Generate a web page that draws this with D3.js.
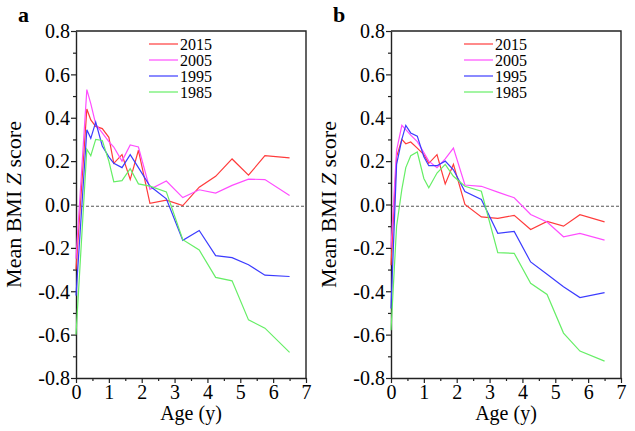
<!DOCTYPE html>
<html>
<head>
<meta charset="utf-8">
<script src="https://cdn.jsdelivr.net/npm/d3@7"></script>
<style>
  body { margin: 0; background: #fff; }
  svg text { font-family: "Liberation Serif", "Times New Roman", serif !important; fill: #000; }
</style>
</head>
<body>
<div id="chart"></div>
<script>
var W = 635, H = 431;
var serif = "'Liberation Serif', 'Times New Roman', serif";

// series names and colours
var years = ["2015", "2005", "1995", "1985"];
var colors = ["#ff3b3b", "#ff4dff", "#3b3bff", "#66ee66"];

// panel a
var agesA = [0, 0.33, 0.45, 0.6, 0.8, 1.0, 1.15, 1.4, 1.65, 1.9, 2.25, 2.75, 3.25, 3.75, 4.25, 4.75, 5.25, 5.75, 6.5];
var a2015 = [-0.3, 0.44, 0.39, 0.36, 0.35, 0.31, 0.19, 0.23, 0.115, 0.25, 0.005, 0.02, -0.005, 0.08, 0.13, 0.21, 0.135, 0.225, 0.215];
var a2005 = [-0.25, 0.53, 0.465, 0.37, 0.33, 0.29, 0.265, 0.2, 0.275, 0.265, 0.07, 0.108, 0.032, 0.068, 0.053, 0.088, 0.117, 0.115, 0.042];
var a1995 = [-0.42, 0.345, 0.305, 0.38, 0.27, 0.22, 0.19, 0.17, 0.23, 0.17, 0.085, 0.026, -0.165, -0.12, -0.236, -0.245, -0.278, -0.326, -0.332];
var a1985 = [-0.6, 0.255, 0.225, 0.3, 0.295, 0.2, 0.105, 0.11, 0.165, 0.095, 0.085, 0.058, -0.162, -0.21, -0.336, -0.352, -0.532, -0.57, -0.682];

// panel b
var agesB = [0, 0.17, 0.33, 0.45, 0.6, 0.8, 1.0, 1.15, 1.4, 1.65, 1.9, 2.25, 2.75, 3.25, 3.75, 4.25, 4.75, 5.25, 5.75, 6.5];
var b2015 = [-0.28, 0.22, 0.3, 0.28, 0.288, 0.26, 0.23, 0.19, 0.23, 0.095, 0.185, 0.0, -0.057, -0.064, -0.05, -0.115, -0.078, -0.1, -0.047, -0.08];
var b2005 = [-0.2, 0.25, 0.365, 0.345, 0.32, 0.29, 0.24, 0.2, 0.17, 0.21, 0.26, 0.09, 0.084, 0.057, 0.031, -0.046, -0.081, -0.149, -0.133, -0.164];
var b1995 = [-0.48, 0.185, 0.3, 0.365, 0.33, 0.315, 0.22, 0.179, 0.179, 0.2, 0.16, 0.06, 0.023, -0.133, -0.124, -0.265, -0.322, -0.379, -0.429, -0.406];
var b1985 = [-0.58, -0.1, 0.07, 0.17, 0.225, 0.242, 0.12, 0.077, 0.145, 0.185, 0.13, 0.084, 0.061, -0.222, -0.225, -0.363, -0.415, -0.593, -0.676, -0.722];

var xTicks = [0, 1, 2, 3, 4, 5, 6, 7];
var yTicks = [-0.8, -0.6, -0.4, -0.2, 0.0, 0.2, 0.4, 0.6, 0.8];

var panels = [
  {letter: "a", left: 76, ages: agesA, series: [a2015, a2005, a1995, a1985]},
  {letter: "b", left: 391, ages: agesB, series: [b2015, b2005, b1995, b1985]}
];

var plotTop = 31, plotBottom = 378, pw = 230;

var svg = d3.select("#chart").append("svg")
    .attr("width", W)
    .attr("height", H);

panels.forEach(function(p) {
  var x = d3.scaleLinear().domain([0, 7]).range([p.left, p.left + pw]);
  var y = d3.scaleLinear().domain([-0.8, 0.8]).range([plotBottom, plotTop]);
  var g = svg.append("g");

  // frame (top and right)
  g.append("path")
    .attr("d", "M" + x(0) + "," + y(0.8) + "H" + x(7) + "V" + y(-0.8))
    .attr("fill", "none").attr("stroke", "#222").attr("stroke-width", 1.4);

  // zero reference
  g.append("line")
    .attr("x1", x(0)).attr("x2", x(7))
    .attr("y1", y(-0.008)).attr("y2", y(-0.008))
    .attr("stroke", "#555").attr("stroke-width", 1)
    .attr("stroke-dasharray", "3,2");

  // minor ticks
  g.append("g")
    .attr("transform", "translate(0," + plotBottom + ")")
    .call(d3.axisBottom(x).tickValues(d3.range(0.5, 7, 1)).tickSize(3).tickFormat(""))
    .call(function(s) { s.select(".domain").remove(); });
  g.append("g")
    .attr("transform", "translate(" + x(0) + ",0)")
    .call(d3.axisLeft(y).tickValues(d3.range(-0.7, 0.8, 0.2)).tickSize(3).tickFormat(""))
    .call(function(s) { s.select(".domain").remove(); });

  // major axes
  var xa = g.append("g")
    .attr("transform", "translate(0," + plotBottom + ")")
    .call(d3.axisBottom(x).tickValues(xTicks).tickSize(5).tickSizeOuter(0).tickPadding(2).tickFormat(d3.format("d")));
  var ya = g.append("g")
    .attr("transform", "translate(" + x(0) + ",0)")
    .call(d3.axisLeft(y).tickValues(yTicks).tickSize(5).tickSizeOuter(0).tickPadding(1)
      .tickFormat(function(d) { return d.toFixed(1); }));
  g.selectAll("g").attr("font-family", serif);
  g.selectAll(".domain").attr("stroke", "#222").attr("stroke-width", 1.4);
  g.selectAll(".tick line").attr("stroke", "#222").attr("stroke-width", 1.2);
  xa.selectAll(".tick text").style("font-size", "20px").style("font-family", serif);
  ya.selectAll(".tick text").style("font-size", "20px").style("font-family", serif).attr("dy", "0.34em");

  // lines
  var line = d3.line()
    .x(function(d) { return x(d[0]); })
    .y(function(d) { return y(d[1]); });

  p.series.forEach(function(vals, i) {
    var pts = p.ages.map(function(a, j) { return [a, vals[j]]; });
    g.append("path")
      .attr("d", line(pts))
      .attr("fill", "none")
      .attr("stroke", colors[i])
      .attr("stroke-width", 1.2);
  });

  // legend
  var lg = g.append("g")
    .attr("transform", "translate(" + (p.left + 73) + "," + 44 + ")");
  years.forEach(function(yr, i) {
    lg.append("line")
      .attr("x1", 0).attr("x2", 29)
      .attr("y1", i * 16).attr("y2", i * 16)
      .attr("stroke", colors[i]).attr("stroke-width", 1.2);
    lg.append("text")
      .attr("x", 31).attr("y", i * 16 + 5.5)
      .style("font-size", "16px")
      .style("font-family", serif)
      .text(yr);
  });

  // axis titles
  g.append("text")
    .attr("x", x(3.5)).attr("y", 420)
    .attr("text-anchor", "middle")
    .style("font-size", "20px")
    .style("font-family", serif)
    .text("Age (y)");

  var yl = g.append("text")
    .attr("transform", "translate(" + (p.left - 55) + "," + ((plotTop + plotBottom) / 2) + ") rotate(-90)")
    .attr("text-anchor", "middle")
    .style("font-size", "22px")
    .style("font-family", serif);
  yl.append("tspan").text("Mean BMI ");
  yl.append("tspan").style("font-style", "italic").text("Z");
  yl.append("tspan").text(" score");

  // panel letter
  svg.append("text")
    .attr("x", p.left - 58).attr("y", 22)
    .style("font-size", "22px")
    .style("font-weight", "bold")
    .style("font-family", serif)
    .text(p.letter);
});
</script>
</body>
</html>
